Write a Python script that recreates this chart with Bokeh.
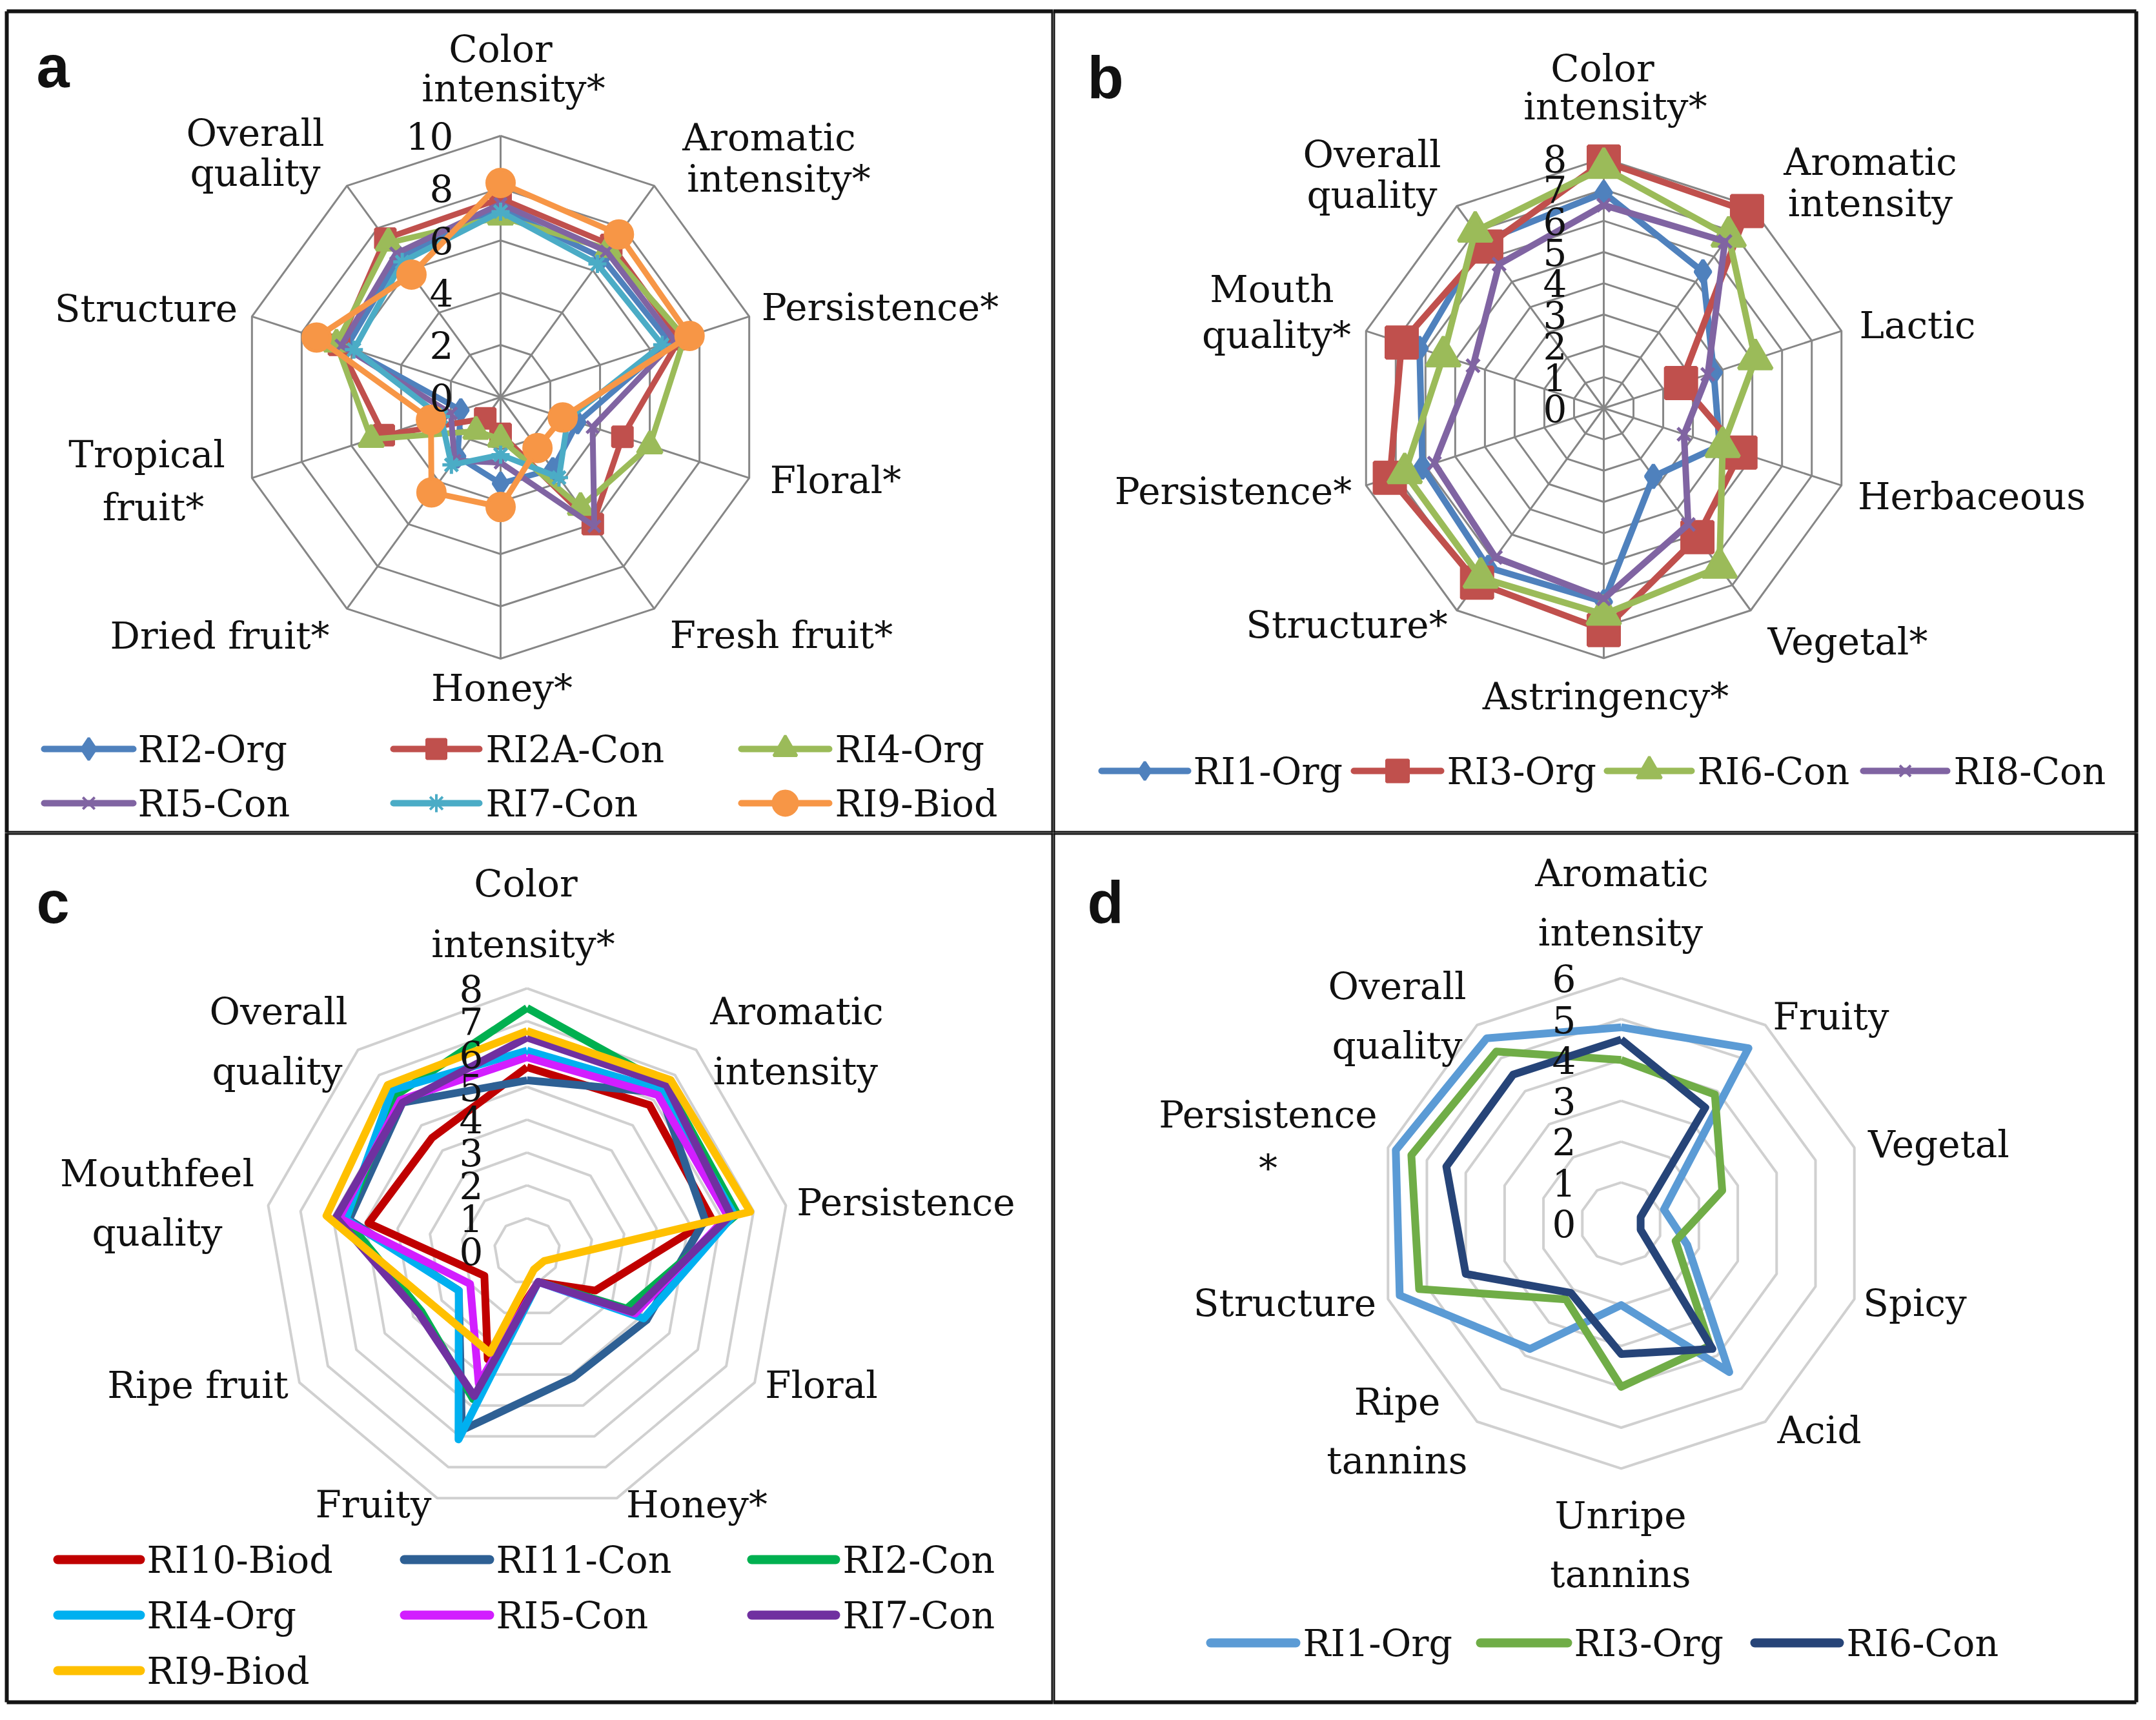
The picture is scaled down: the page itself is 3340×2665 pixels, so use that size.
import math
from bokeh.plotting import figure
from bokeh.layouts import row, column
from bokeh.models import Range1d
from bokeh.core.properties import value
from bokeh.embed import file_html
from bokeh.resources import INLINE

# ---------------- DATA ----------------
# Panel a
A_CATEGORIES = ["Color\nintensity*", "Aromatic\nintensity*", "Persistence*", "Floral*", "Fresh fruit*",
                "Honey*", "Dried fruit*", "Tropical\nfruit*", "Structure", "Overall\nquality"]
A_SERIES = ["RI2-Org", "RI2A-Con", "RI4-Org", "RI5-Con", "RI7-Con", "RI9-Biod"]
A_RI2_ORG = [7.2, 6.6, 6.8, 3.1, 3.4, 3.3, 2.8, 1.6, 6.2, 6.6]
A_RI2A_CON = [7.6, 7.2, 7.2, 4.9, 6.0, 1.4, 1.0, 4.7, 6.5, 7.5]
A_RI4_ORG = [6.9, 7.0, 7.4, 6.0, 5.2, 1.6, 1.6, 5.2, 6.6, 7.3]
A_RI5_CON = [7.4, 6.9, 7.0, 3.7, 6.1, 2.5, 3.0, 2.0, 6.4, 6.8]
A_RI7_CON = [7.1, 6.3, 6.5, 2.7, 3.8, 2.2, 3.2, 2.4, 5.9, 6.4]
A_RI9_BIOD = [8.2, 7.7, 7.6, 2.5, 2.4, 4.2, 4.5, 2.8, 7.4, 5.8]
A_TICKS = [0, 2, 4, 6, 8, 10]

# Panel b
B_CATEGORIES = ["Color\nintensity*", "Aromatic\nintensity", "Lactic", "Herbaceous", "Vegetal*",
                "Astringency*", "Structure*", "Persistence*", "Mouth\nquality*", "Overall\nquality"]
B_SERIES = ["RI1-Org", "RI3-Org", "RI6-Con", "RI8-Con"]
B_RI1_ORG = [6.9, 5.4, 3.7, 3.9, 2.7, 6.2, 6.3, 6.1, 6.2, 6.6]
B_RI3_ORG = [7.9, 7.8, 2.6, 4.6, 5.1, 7.1, 6.9, 7.2, 6.8, 6.4]
B_RI6_CON = [7.7, 6.8, 5.1, 4.0, 6.3, 6.6, 6.7, 6.7, 5.4, 7.0]
B_RI8_CON = [6.5, 6.6, 3.5, 2.7, 4.6, 6.1, 5.9, 5.7, 4.4, 5.7]
B_TICKS = [0, 1, 2, 3, 4, 5, 6, 7, 8]

# Panel c
C_CATEGORIES = ["Color\nintensity*", "Aromatic\nintensity", "Persistence", "Floral", "Honey*",
                "Fruity", "Ripe fruit", "Mouthfeel\nquality", "Overall\nquality"]
C_SERIES = ["RI10-Biod", "RI11-Con", "RI2-Con", "RI4-Org", "RI5-Con", "RI7-Con", "RI9-Biod"]
C_RI10_BIOD = [5.6, 5.8, 5.7, 2.4, 1.0, 3.5, 1.5, 4.9, 4.5]
C_RI11_CON = [5.2, 6.3, 5.5, 4.2, 4.1, 5.8, 2.4, 5.5, 5.9]
C_RI2_CON = [7.4, 6.6, 6.5, 3.5, 1.0, 4.8, 3.7, 5.6, 6.2]
C_RI4_ORG = [6.1, 6.4, 6.4, 4.1, 1.0, 6.1, 2.4, 5.6, 6.4]
C_RI5_CON = [5.9, 6.2, 6.2, 3.8, 1.0, 4.3, 2.0, 5.8, 6.0]
C_RI7_CON = [6.5, 6.6, 6.3, 3.7, 1.0, 4.7, 3.8, 5.9, 5.9]
C_RI9_BIOD = [6.7, 6.8, 6.9, 0.6, 0.6, 3.3, 3.3, 6.2, 6.6]
C_TICKS = [0, 1, 2, 3, 4, 5, 6, 7, 8]

# Panel d
D_CATEGORIES = ["Aromatic\nintensity", "Fruity", "Vegetal", "Spicy", "Acid", "Unripe\ntannins",
                "Ripe\ntannins", "Structure", "Persistence\n*", "Overall\nquality"]
D_SERIES = ["RI1-Org", "RI3-Org", "RI6-Con"]
D_RI1_ORG = [4.8, 5.3, 1.1, 1.7, 4.5, 2.0, 3.8, 5.7, 5.8, 5.6]
D_RI3_ORG = [4.0, 3.9, 2.6, 1.4, 3.7, 4.0, 2.3, 5.2, 5.4, 5.2]
D_RI6_CON = [4.5, 3.5, 0.5, 0.5, 3.8, 3.2, 2.1, 4.0, 4.5, 4.5]
D_TICKS = [0, 1, 2, 3, 4, 5, 6]

# ---------------- STYLE / LAYOUT ----------------
FONT = "DejaVu Serif"
LABEL_SIZE = "58px"
TEXT_COLOR = "#111111"

A_STYLE = [("#4F81BD", "diamond", 34), ("#C0504D", "square", 30), ("#9BBB59", "triangle", 38),
           ("#8064A2", "x", 26), ("#4BACC6", "asterisk", 28), ("#F79646", "circle", 42)]
A_LEG_STYLE = [("#4F81BD", "diamond", 34), ("#C0504D", "square", 30), ("#9BBB59", "triangle", 36),
               ("#8064A2", "x", 26), ("#4BACC6", "asterisk", 28), ("#F79646", "circle", 38)]
B_STYLE = [("#4F81BD", "diamond", 36), ("#C0504D", "square", 48), ("#9BBB59", "triangle", 52),
           ("#8064A2", "x", 28)]
B_LEG_STYLE = [("#4F81BD", "diamond", 28), ("#C0504D", "square", 34), ("#9BBB59", "triangle", 38),
               ("#8064A2", "x", 24)]
C_STYLE = ["#C00000", "#2E6094", "#00B050", "#00B0F0", "#D21EFF", "#7030A0", "#FFC000"]
D_STYLE = ["#5B9BD5", "#70AD47", "#264478"]

A_LABEL_POS = [[(783, 83), (803, 144)], [(1199, 220), (1214, 284)], [(1371, 483)], [(1302, 751)],
               [(1218, 991)], [(785, 1073)], [(348, 992)], [(235, 711), (245, 793)], [(234, 485)],
               [(403, 213), (403, 275)]]
B_LABEL_POS = [[(2490, 113), (2510, 172)], [(2905, 258), (2905, 322)], [(2978, 511)], [(3062, 776)],
               [(2870, 1001)], [(2495, 1086)], [(2094, 975)], [(1918, 768)],
               [(1978, 455), (1985, 526)], [(2133, 246), (2133, 309)]]
C_LABEL_POS = [[(822, 1376), (818, 1470)], [(1242, 1574), (1240, 1667)], [(1411, 1870)], [(1280, 2153)],
               [(1087, 2338)], [(586, 2338)], [(314, 2153)], [(251, 1825), (251, 1917)],
               [(439, 1574), (437, 1667)]]
D_LABEL_POS = [[(2520, 1360), (2518, 1452)], [(2844, 1582)], [(3011, 1780)], [(2974, 2026)],
               [(2826, 2223)], [(2518, 2355), (2518, 2446)], [(2172, 2179), (2172, 2270)],
               [(1998, 2026)], [(1972, 1734), (1972, 1817)], [(2172, 1535), (2172, 1627)]]

# legend layouts: (line x0, line x1, y, text x)
A_LEG_POS = [(76, 214, 1168, 221), (617, 750, 1168, 760), (1156, 1292, 1168, 1301),
             (76, 214, 1252, 221), (617, 750, 1252, 760), (1156, 1292, 1252, 1301)]
B_LEG_POS = [(1714, 1848, 1202, 1856), (2105, 2240, 1202, 2249), (2497, 2628, 1202, 2637),
             (2894, 3024, 1202, 3034)]
C_LEG_POS = [(97, 225, 2424, 235), (634, 766, 2424, 776), (1172, 1302, 2424, 1313),
             (97, 225, 2510, 235), (634, 766, 2510, 776), (1172, 1302, 2510, 1313),
             (97, 225, 2596, 235)]
D_LEG_POS = [(1883, 2015, 2553, 2026), (2301, 2436, 2553, 2446), (2726, 2857, 2553, 2868)]

FRAME_X = [18, 1639, 3317]
FRAME_Y = [25, 1298, 2645]


def radar_xy(vals):
    n = len(vals)
    xs = [v * math.cos(math.pi / 2 - 2 * math.pi * i / n) for i, v in enumerate(vals)]
    ys = [v * math.sin(math.pi / 2 - 2 * math.pi * i / n) for i, v in enumerate(vals)]
    return xs, ys


def closed(xs, ys):
    return xs + xs[:1], ys + ys[:1]


def make_panel(box, center, k):
    X0, X1, Y0, Y1 = box
    cx, cy = center
    p = figure(width=X1 - X0, height=Y1 - Y0,
               x_range=Range1d((X0 - cx) / k, (X1 - cx) / k),
               y_range=Range1d((cy - Y1) / k, (cy - Y0) / k),
               output_backend="svg", toolbar_location=None,
               x_axis_type=None, y_axis_type=None, min_border=0,
               outline_line_color=None, background_fill_color="white",
               border_fill_color="white")

    def P(X, Y):
        return (X - cx) / k, (cy - Y) / k

    for Y in FRAME_Y:
        (x0, y0), (x1, y1) = P(FRAME_X[0], Y), P(FRAME_X[-1], Y)
        p.line([x0, x1], [y0, y1], line_color="#141414", line_width=6)
    for X in FRAME_X:
        (x0, y0), (x1, y1) = P(X, FRAME_Y[0]), P(X, FRAME_Y[-1])
        p.line([x0, x1], [y0, y1], line_color="#141414", line_width=6)
    return p, P


def draw_grid(p, n, ticks, color, width, spokes):
    for t in ticks:
        if t == 0:
            continue
        xs, ys = closed(*radar_xy([t] * n))
        p.line(xs, ys, line_color=color, line_width=width)
    if spokes:
        ox, oy = radar_xy([max(ticks)] * n)
        for x, y in zip(ox, oy):
            p.line([0, x], [0, y], line_color=color, line_width=width)


def draw_labels(p, P, cats, pos):
    xs, ys, ts = [], [], []
    for cat, plist in zip(cats, pos):
        for line, (X, Y) in zip(cat.split("\n"), plist):
            x, y = P(X, Y)
            xs.append(x); ys.append(y); ts.append(line)
    p.text(x=xs, y=ys, text=ts, text_font=value(FONT), text_font_size=value(LABEL_SIZE),
           text_align="center", text_baseline="middle", text_color=TEXT_COLOR)


def draw_ticks(p, P, ticks, k, off):
    xs = [-off / k] * len(ticks)
    ys = list(ticks)
    p.text(x=xs, y=ys, text=[str(t) for t in ticks], text_font=value(FONT),
           text_font_size=value(LABEL_SIZE), text_align="right", text_baseline="middle",
           text_color=TEXT_COLOR)


def draw_letter(p, P, letter, X, Y):
    x, y = P(X, Y)
    p.text(x=[x], y=[y], text=[letter], text_font=value("Liberation Sans"),
           text_font_style="bold", text_font_size=value("92px"), text_align="left",
           text_baseline="alphabetic", text_color="#111111")


def draw_legend(p, P, names, colors, markers, sizes, positions, lw):
    for name, col, mk, sz, (lx0, lx1, ly, tx) in zip(names, colors, markers, sizes, positions):
        (x0, y0), (x1, y1) = P(lx0, ly), P(lx1, ly)
        p.line([x0, x1], [y0, y1], line_color=col, line_width=lw, line_cap="round")
        if mk is not None:
            p.scatter([(x0 + x1) / 2], [y0], marker=mk, size=sz, fill_color=col, line_color=col,
                      line_width=4)
        tx_, ty_ = P(tx, ly)
        p.text(x=[tx_], y=[ty_], text=[name], text_font=value(FONT), text_font_size=value("57px"),
               text_align="left", text_baseline="middle", text_color=TEXT_COLOR)


# ---------------- Panel a ----------------
ka = 40.5
pa, Pa = make_panel((8, 1639, 8, 1298), (783, 623), ka)
draw_grid(pa, len(A_CATEGORIES), A_TICKS, "#868686", 3, True)
a_vals = [A_RI2_ORG, A_RI2A_CON, A_RI4_ORG, A_RI5_CON, A_RI7_CON, A_RI9_BIOD]
for vals, (col, mk, sz) in zip(a_vals, A_STYLE):
    xs, ys = radar_xy(vals)
    cxs, cys = closed(xs, ys)
    pa.line(cxs, cys, line_color=col, line_width=9, line_join="round")
    pa.scatter(xs, ys, marker=mk, size=sz, fill_color=col, line_color=col, line_width=5)
draw_labels(pa, Pa, A_CATEGORIES, A_LABEL_POS)
draw_ticks(pa, Pa, A_TICKS, ka, 73)
draw_letter(pa, Pa, "a", 64, 110)
draw_legend(pa, Pa, A_SERIES, [s[0] for s in A_LEG_STYLE], [s[1] for s in A_LEG_STYLE],
            [s[2] for s in A_LEG_STYLE], A_LEG_POS, 10)

# ---------------- Panel b ----------------
kb = 48.4
pb, Pb = make_panel((1639, 3330, 8, 1298), (2492, 640), kb)
draw_grid(pb, len(B_CATEGORIES), B_TICKS, "#868686", 3, True)
b_vals = [B_RI1_ORG, B_RI3_ORG, B_RI6_CON, B_RI8_CON]
for vals, (col, mk, sz) in zip(b_vals, B_STYLE):
    xs, ys = radar_xy(vals)
    cxs, cys = closed(xs, ys)
    pb.line(cxs, cys, line_color=col, line_width=10, line_join="round")
    pb.scatter(xs, ys, marker=mk, size=sz, fill_color=col, line_color=col, line_width=5)
draw_labels(pb, Pb, B_CATEGORIES, B_LABEL_POS)
draw_ticks(pb, Pb, B_TICKS, kb, 57)
draw_letter(pb, Pb, "b", 1692, 127)
draw_legend(pb, Pb, B_SERIES, [s[0] for s in B_LEG_STYLE], [s[1] for s in B_LEG_STYLE],
            [s[2] for s in B_LEG_STYLE], B_LEG_POS, 10)

# ---------------- Panel c ----------------
kc = 50.9
pc, Pc = make_panel((8, 1639, 1298, 2655), (824, 1946), kc)
draw_grid(pc, len(C_CATEGORIES), C_TICKS, "#D0D0D0", 4, False)
c_vals = [C_RI10_BIOD, C_RI11_CON, C_RI2_CON, C_RI4_ORG, C_RI5_CON, C_RI7_CON, C_RI9_BIOD]
for vals, col in zip(c_vals, C_STYLE):
    xs, ys = closed(*radar_xy(vals))
    pc.line(xs, ys, line_color=col, line_width=12, line_join="round")
draw_labels(pc, Pc, C_CATEGORIES, C_LABEL_POS)
draw_ticks(pc, Pc, C_TICKS, kc, 68)
draw_letter(pc, Pc, "c", 64, 1405)
draw_legend(pc, Pc, C_SERIES, C_STYLE, [None] * len(C_SERIES), [0] * len(C_SERIES), C_LEG_POS, 14)

# ---------------- Panel d ----------------
kd = 63.3
pd_, Pd = make_panel((1639, 3330, 1298, 2655), (2519, 1903), kd)
draw_grid(pd_, len(D_CATEGORIES), D_TICKS, "#D0D0D0", 4, False)
d_vals = [D_RI1_ORG, D_RI3_ORG, D_RI6_CON]
for vals, col in zip(d_vals, D_STYLE):
    xs, ys = closed(*radar_xy(vals))
    pd_.line(xs, ys, line_color=col, line_width=12, line_join="round")
draw_labels(pd_, Pd, D_CATEGORIES, D_LABEL_POS)
draw_ticks(pd_, Pd, D_TICKS, kd, 70)
draw_letter(pd_, Pd, "d", 1692, 1405)
draw_legend(pd_, Pd, D_SERIES, D_STYLE, [None] * len(D_SERIES), [0] * len(D_SERIES), D_LEG_POS, 14)

layout = column(row(pa, pb), row(pc, pd_))
open("out.html", "w").write(file_html(layout, INLINE))
